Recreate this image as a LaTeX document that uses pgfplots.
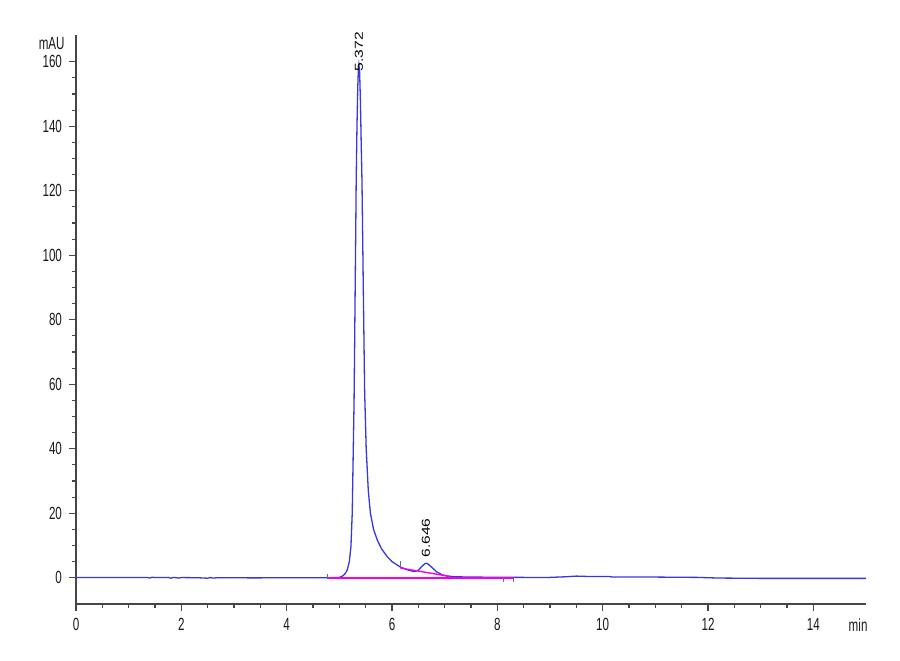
\documentclass[border=0pt]{standalone}
\usepackage{fontspec}
\setmainfont{Liberation Sans}[FakeStretch=0.66]
\newfontfamily\peakfont{Liberation Sans}
\usepackage{pgfplots}
\pgfplotsset{compat=1.18}
\definecolor{trace}{RGB}{55,55,220}
\definecolor{base}{RGB}{240,0,240}
\definecolor{axisgray}{RGB}{70,70,70}
\definecolor{marker}{RGB}{110,110,110}

\begin{document}
\begin{tikzpicture}
\begin{axis}[
  scale only axis, width=395pt, height=284.5pt,
  xmin=0, xmax=15, ymin=-8.15, ymax=168.3,
  axis x line*=bottom, axis y line*=left,
  axis line style={axisgray, line width=0.6pt},
  xtick={0,2,...,14}, ytick={0,20,...,160},
  minor x tick num=3, minor y tick num=3,
  tick align=outside,
  major tick length=3.5pt, minor tick length=2pt,
  every tick/.style={axisgray, line width=0.6pt},
  every tick label/.append style={font=\fontsize{8.8}{10}\selectfont, text=black!90},
  /pgf/number format/assume math mode=true,
  clip=false,
]
% chromatogram trace
\addplot[trace, line width=0.65pt] coordinates {
  (0,0.1)(0.5,0.1)(1.0,0.1)(1.35,0.1)(1.4,-0.1)(1.45,0.15)(1.5,0.05)
  (1.75,0.1)(1.8,-0.15)(1.85,0.1)(1.95,-0.1)(2.0,0.05)(2.3,0.0)(2.5,-0.15)
  (2.55,0.05)(2.6,-0.1)(2.7,0.0)(3.4,-0.05)(4.0,0.0)(4.9,0.0)
  (5.0,0.1)(5.07,0.6)(5.12,1.5)(5.15,2.4)(5.19,5)(5.22,9.6)(5.245,20)
  (5.265,40)(5.28,55)(5.295,80)(5.31,105)(5.32,123)(5.335,140)(5.35,152)
  (5.36,157)(5.372,159)(5.385,157)(5.40,148)(5.415,135)(5.43,123)
  (5.455,90)(5.48,58)(5.51,40)(5.55,27)(5.59,20)(5.65,15)(5.72,11.7)
  (5.8,9)(5.91,6.5)(6.0,5.0)(6.16,3.3)(6.3,2.4)(6.42,1.9)(6.5,2.3)
  (6.56,3.4)(6.62,4.3)(6.646,4.5)(6.68,4.3)(6.75,3.3)(6.85,1.8)(6.95,0.9)
  (7.05,0.5)(7.2,0.3)(7.5,0.2)(8.0,0.15)(8.5,0.1)(9.0,0.1)(9.3,0.3)
  (9.5,0.5)(9.7,0.4)(10.1,0.4)(10.2,0.2)(11.0,0.2)(11.8,0.1)(12.2,-0.1)
  (13.0,-0.2)(14.0,-0.2)(15.0,-0.2)
};
% integration baselines
\addplot[base, line width=0.9pt] coordinates {(4.77,-0.05)(8.31,-0.05)};
\addplot[base, line width=0.7pt] coordinates {(6.16,3.0)(7.1,0.4)};
% peak start/stop marks
\addplot[marker, line width=0.5pt] coordinates {(4.77,0.05)(4.77,1.3)};
\addplot[marker, line width=0.5pt] coordinates {(6.16,3.3)(6.16,5.3)};
\addplot[marker, line width=0.5pt] coordinates {(8.12,0.05)(8.12,-1.3)};
\addplot[marker, line width=0.5pt] coordinates {(8.31,0.05)(8.31,-1.3)};
% labels
\node[rotate=90, anchor=west, inner sep=0, font=\peakfont\fontsize{7.8}{9}\selectfont]
  at (axis cs:5.372,157) {\scalebox{1}[0.74]{5.372}};
\node[rotate=90, anchor=west, inner sep=0, font=\peakfont\fontsize{7.8}{9}\selectfont]
  at (axis cs:6.646,6.1) {\scalebox{1}[0.74]{6.646}};
\node[anchor=east, inner sep=0, font=\fontsize{8.8}{10}\selectfont, text=black!90]
  at ([xshift=-5.5pt]axis cs:0,165.8) {mAU};
\node[anchor=north, inner sep=0, font=\fontsize{8.8}{10}\selectfont, text=black!90]
  at ([yshift=-7pt]axis cs:14.85,-8.15) {min};
\end{axis}
\path ([shift={(-38pt,-28pt)}]current axis.south west) rectangle
      ([shift={(17pt,17.5pt)}]current axis.north east);
\end{tikzpicture}
\end{document}
